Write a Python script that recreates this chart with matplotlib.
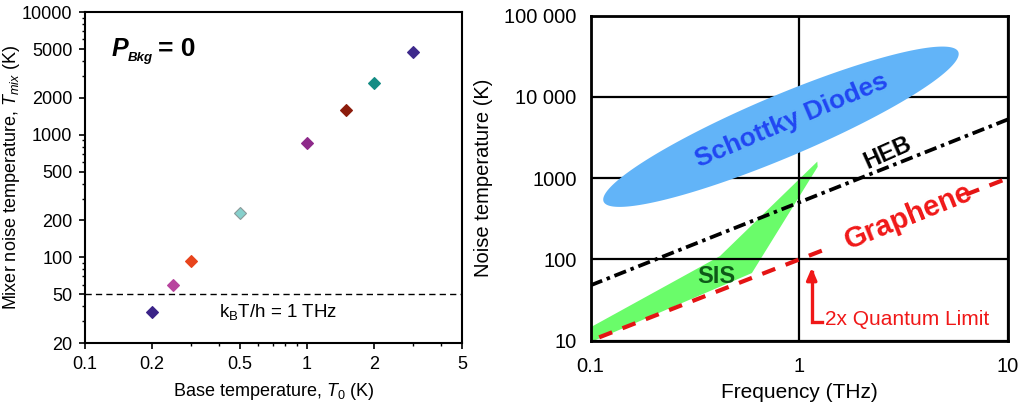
import numpy as np
import matplotlib
matplotlib.use("Agg")
import matplotlib.pyplot as plt
from matplotlib.ticker import NullFormatter, FixedLocator, LogLocator

plt.rcParams["font.family"] = ["Liberation Sans", "DejaVu Sans"]
plt.rcParams["mathtext.fontset"] = "custom"
plt.rcParams["mathtext.rm"] = "Liberation Sans"
plt.rcParams["mathtext.it"] = "Liberation Sans:italic"
plt.rcParams["mathtext.bf"] = "Liberation Sans:bold"
plt.rcParams["lines.scale_dashes"] = False

# ---- left panel: mixer noise temperature vs base temperature ----
base_T = [0.2, 0.25, 0.3, 0.5, 1.0, 1.5, 2.0, 3.0]
T_mix = [36, 60, 94, 232, 860, 1580, 2660, 4770]
point_colors = ["#3b2388", "#b8449e", "#e8441c", "#86d0cc",
                "#8e2a8a", "#8c1c0c", "#148c84", "#3e2a8c"]
point_edges = ["#3b2388", "#b8449e", "#e8441c", "#8a9a9a",
               "#8e2a8a", "#8c1c0c", "#148c84", "#3e2a8c"]
thermal_T = 50          # k_B T / h = 1 THz
left_xticks = [0.1, 0.2, 0.5, 1, 2, 5]
left_xlabels = ["0.1", "0.2", "0.5", "1", "2", "5"]
left_yticks = [20, 50, 100, 200, 500, 1000, 2000, 5000, 10000]
left_ylabels = ["20", "50", "100", "200", "500", "1000", "2000", "5000", "10000"]

# ---- right panel: receiver noise temperature vs frequency ----
heb_freq = [0.1, 10]
heb_T = [48, 5300]
# graphene 2x quantum-limit line, drawn as two pieces around its label
graphene_freq_low = [0.11, 1.32]
graphene_T_low = [11, 132]
graphene_freq_high = [6.3, 10]
graphene_T_high = [630, 1000]
sis_freq = [0.1, 0.417, 1.22, 1.225, 0.593, 0.104, 0.1]
sis_T = [14.6, 110, 1600, 1380, 68, 10, 10]
schottky_center = (0.817, 4300)   # THz, K
right_xticks = [0.1, 1, 10]
right_xlabels = ["0.1", "1", "10"]
right_yticks = [10, 100, 1000, 10000, 100000]
right_ylabels = ["10", "100", "1000", "10 000", "100 000"]

RED = "#f01818"

fig = plt.figure(figsize=(10.29, 4.05), dpi=100)

# ================= left panel =================
ax1 = fig.add_axes([0.0826, 0.153, 0.3664, 0.817])
ax1.set_xscale("log")
ax1.set_yscale("log")
ax1.set_xlim(0.1, 5)
ax1.set_ylim(20, 10000)

for x, y, c, ec in zip(base_T, T_mix, point_colors, point_edges):
    ms = 6.0 if c == "#86d0cc" else 6.6
    ax1.plot([x], [y], marker="D", ms=ms, color=c, mec=ec, mew=0.8,
             linestyle="none", zorder=3)

ax1.axhline(thermal_T, color="black", lw=1.0, dashes=(4.5, 3.0), zorder=2)
ax1.text(0.4, 36, r"k$_\mathregular{B}$T/h = 1 THz", fontsize=13.5,
         ha="left", va="center")

ax1.xaxis.set_major_locator(FixedLocator(left_xticks))
ax1.set_xticklabels(left_xlabels)
ax1.yaxis.set_major_locator(FixedLocator(left_yticks))
ax1.set_yticklabels(left_ylabels)
ax1.xaxis.set_minor_locator(LogLocator(base=10, subs=np.arange(2, 10)))
ax1.yaxis.set_minor_locator(LogLocator(base=10, subs=np.arange(2, 10)))
ax1.xaxis.set_minor_formatter(NullFormatter())
ax1.yaxis.set_minor_formatter(NullFormatter())
ax1.tick_params(which="major", direction="out", length=4, width=1.2,
                labelsize=13, pad=5)
ax1.tick_params(which="minor", direction="out", length=2.5, width=1.0)
for s in ax1.spines.values():
    s.set_linewidth(1.5)

ax1.set_xlabel(r"Base temperature, $T_{\mathit{0}}$ (K)", fontsize=13,
               labelpad=6)
ax1.set_ylabel(r"Mixer noise temperature, $T_{\mathit{mix}}$ (K)",
               fontsize=13, labelpad=0)

# P_Bkg = 0 annotation
p_anchor = (0.0716, 0.888)
ax1.annotate("P", xy=p_anchor, xycoords="axes fraction",
             fontsize=18, fontweight="bold", fontstyle="italic",
             ha="left", va="center")
ax1.annotate("Bkg", xy=p_anchor, xycoords="axes fraction",
             xytext=(11.5, -6), textcoords="offset points",
             fontsize=9.5, fontweight="bold", fontstyle="italic",
             ha="left", va="center")
ax1.annotate("= 0", xy=p_anchor, xycoords="axes fraction",
             xytext=(33, 0), textcoords="offset points",
             fontsize=19, fontweight="bold", ha="left", va="center")

# ================= right panel =================
ax2 = fig.add_axes([0.5739, 0.1588, 0.4057, 0.8024])
ax2.set_xscale("log")
ax2.set_yscale("log")
ax2.set_xlim(0.1, 10)
ax2.set_ylim(10, 100000)
ax2.set_axisbelow("line")

ax2.xaxis.set_major_locator(FixedLocator(right_xticks))
ax2.set_xticklabels(right_xlabels)
ax2.yaxis.set_major_locator(FixedLocator(right_yticks))
ax2.set_yticklabels(right_ylabels)
ax2.xaxis.set_minor_locator(FixedLocator([]))
ax2.yaxis.set_minor_locator(FixedLocator([]))
ax2.tick_params(which="major", length=0, labelsize=14.5)
ax2.tick_params(axis="x", pad=12)
ax2.tick_params(axis="y", pad=10)
ax2.grid(True, which="major", color="black", lw=1.6)
for s in ax2.spines.values():
    s.set_linewidth(2.0)
    s.set_zorder(5)

# SIS region (under the grid)
ax2.fill(sis_freq, sis_T, color="#6afc6a", lw=0, zorder=1.0)

# Schottky ellipse, shaped in screen pixels around its data centre
fig.canvas.draw()
cx, cy = ax2.transData.transform(schottky_center)
scale = fig.dpi / 100.0
a_px, b_px, ang = 192.5 * scale, 31.0 * scale, np.deg2rad(22.9)
t = np.linspace(0, 2 * np.pi, 300)
ex = cx + a_px * np.cos(t) * np.cos(ang) - b_px * np.sin(t) * np.sin(ang)
ey = cy + a_px * np.cos(t) * np.sin(ang) + b_px * np.sin(t) * np.cos(ang)
ell = ax2.transData.inverted().transform(np.column_stack([ex, ey]))
ax2.fill(ell[:, 0], ell[:, 1], color="#62b4f8", lw=0, zorder=2)

# HEB line
ax2.plot(heb_freq, heb_T, color="black", lw=2.7,
         dashes=(9, 3.5, 2.5, 3.5), zorder=3, solid_capstyle="butt")

# Graphene (2x quantum limit) line
for fq, tq in ((graphene_freq_low, graphene_T_low),
               (graphene_freq_high, graphene_T_high)):
    ax2.plot(fq, tq, color="#e41414", lw=3.0, dashes=(10, 8), zorder=3)

ax2.text(0.916, 5200, "Schottky Diodes", color="#2147f2", fontsize=19,
         fontweight="bold", rotation=23, rotation_mode="anchor",
         ha="center", va="center", zorder=4)
ax2.text(2.66, 2020, "HEB", color="black", fontsize=17, fontweight="bold",
         rotation=24, rotation_mode="anchor", ha="center", va="center",
         zorder=4)
ax2.text(3.35, 336, "Graphene", color=RED, fontsize=21, fontweight="bold",
         rotation=22, rotation_mode="anchor", ha="center", va="center",
         zorder=4)
ax2.text(0.40, 61, "SIS", color="#0e5a18", fontsize=17, fontweight="bold",
         ha="center", va="center", zorder=4)

# 2x quantum limit pointer
ax2.plot([1.147, 1.147, 1.28], [70, 17.1, 17.1], color=RED, lw=2.4,
         solid_joinstyle="miter", zorder=4)
ax2.annotate("", xy=(1.147, 79), xytext=(1.147, 55),
             arrowprops=dict(arrowstyle="-|>,head_length=0.7,head_width=0.3",
                             color=RED, lw=2.4, shrinkA=0, shrinkB=0),
             zorder=4)
ax2.text(1.33, 18, "2x Quantum Limit", color=RED, fontsize=15,
         ha="left", va="center", zorder=4)

ax2.set_xlabel("Frequency (THz)", fontsize=15, labelpad=5)
ax2.set_ylabel("Noise temperature (K)", fontsize=14.5, labelpad=8)

fig.savefig("out.png", dpi=100, facecolor="white")
